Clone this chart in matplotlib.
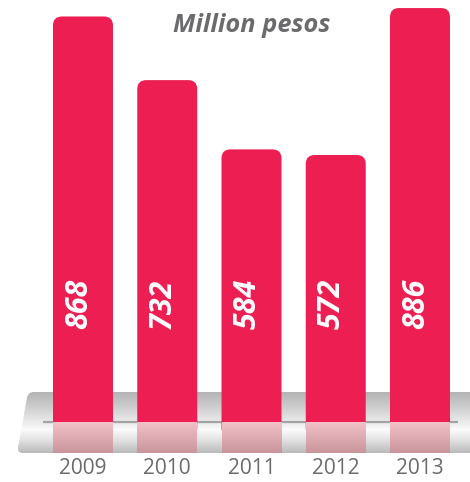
import numpy as np
import matplotlib.pyplot as plt
import matplotlib.transforms as mtransforms
from matplotlib.patches import FancyBboxPatch
from matplotlib.colors import LinearSegmentedColormap

years = ['2009', '2010', '2011', '2012', '2013']
values = [868, 732, 584, 572, 886]
title = 'Million pesos'

bar_color = '#ec1e52'
text_gray = '#6b6b6d'

fig = plt.figure(figsize=(4.7, 4.82), dpi=100)

# background axes in pixel units (y down) for the grey platform
bg = fig.add_axes([0, 0, 1, 1])
plat_cmap = LinearSegmentedColormap.from_list('plat', [
    (0.0, '#b4b4b4'), (0.25, '#cecece'), (0.5, '#ececec'),
    (0.62, '#fafafa'), (0.8, '#e0e0e0'), (1.0, '#bababa')])
grad = np.linspace(0, 1, 200).reshape(-1, 1)
skew = (mtransforms.Affine2D().translate(0, -422.5)
        .skew(np.arctan(-0.18), 0).translate(0, 422.5))
plat = FancyBboxPatch((22.5, 392), 480, 61,
                      boxstyle='round,pad=0,rounding_size=6',
                      transform=skew + bg.transData, fc='none', ec='none')
bg.add_patch(plat)
im = bg.imshow(grad, extent=(0, 470, 453, 392), cmap=plat_cmap,
               aspect='auto', interpolation='bilinear')
im.set_clip_path(plat)
bg.plot([43, 458], [422, 422], color='#a4a4a4', lw=1.6, solid_capstyle='butt')
bg.set_xlim(0, 470)
bg.set_ylim(482, 0)
bg.axis('off')

# main axes: value scale
ax = fig.add_axes([0, 0, 1, 1])
ax.patch.set_alpha(0)
x = np.arange(len(values))
w = 0.712
px_x = 84.25
px_y = 0.468
r = 9 / px_x
asp = px_x / px_y
below = 30  # bar body runs under the reflection so its lower corners stay hidden

for xi, v in zip(x, values):
    box = FancyBboxPatch((xi - w / 2, -below), w, v + below,
                         boxstyle=f'round,pad=0,rounding_size={r}',
                         mutation_aspect=asp, fc=bar_color, ec='none', zorder=2)
    ax.add_patch(box)

# reflections
refl_cmap = LinearSegmentedColormap.from_list('refl', ['#f2c2c8', '#c8959b'])
for xi in x:
    ax.imshow(grad, extent=(xi - w / 2, xi + w / 2, -64.7, 0), cmap=refl_cmap,
              aspect='auto', interpolation='bilinear', zorder=2.5)

for xi, v in zip(x, values):
    ax.text(xi - 0.047, 200, str(v), rotation=90, rotation_mode='anchor',
            ha='left', va='center', color='white', fontsize=22,
            fontweight='bold', fontstyle='italic', family='Open Sans',
            zorder=3)

for xi, yr in zip(x, years):
    ax.text(xi, -96.8, yr, ha='center', va='center', color=text_gray,
            fontsize=15, family='Open Sans', zorder=3)

ax.text(252 / 470, 1 - 25 / 482, title, transform=ax.transAxes, ha='center',
        va='center', color=text_gray, fontsize=18.3, fontweight='bold',
        fontstyle='italic', family='Open Sans')

ax.set_xlim(-83 / px_x, (470 - 83) / px_x)
ax.set_ylim(-(482 - 422.7) / px_y, 422.7 / px_y)
ax.axis('off')

fig.savefig('out.png', dpi=100)
